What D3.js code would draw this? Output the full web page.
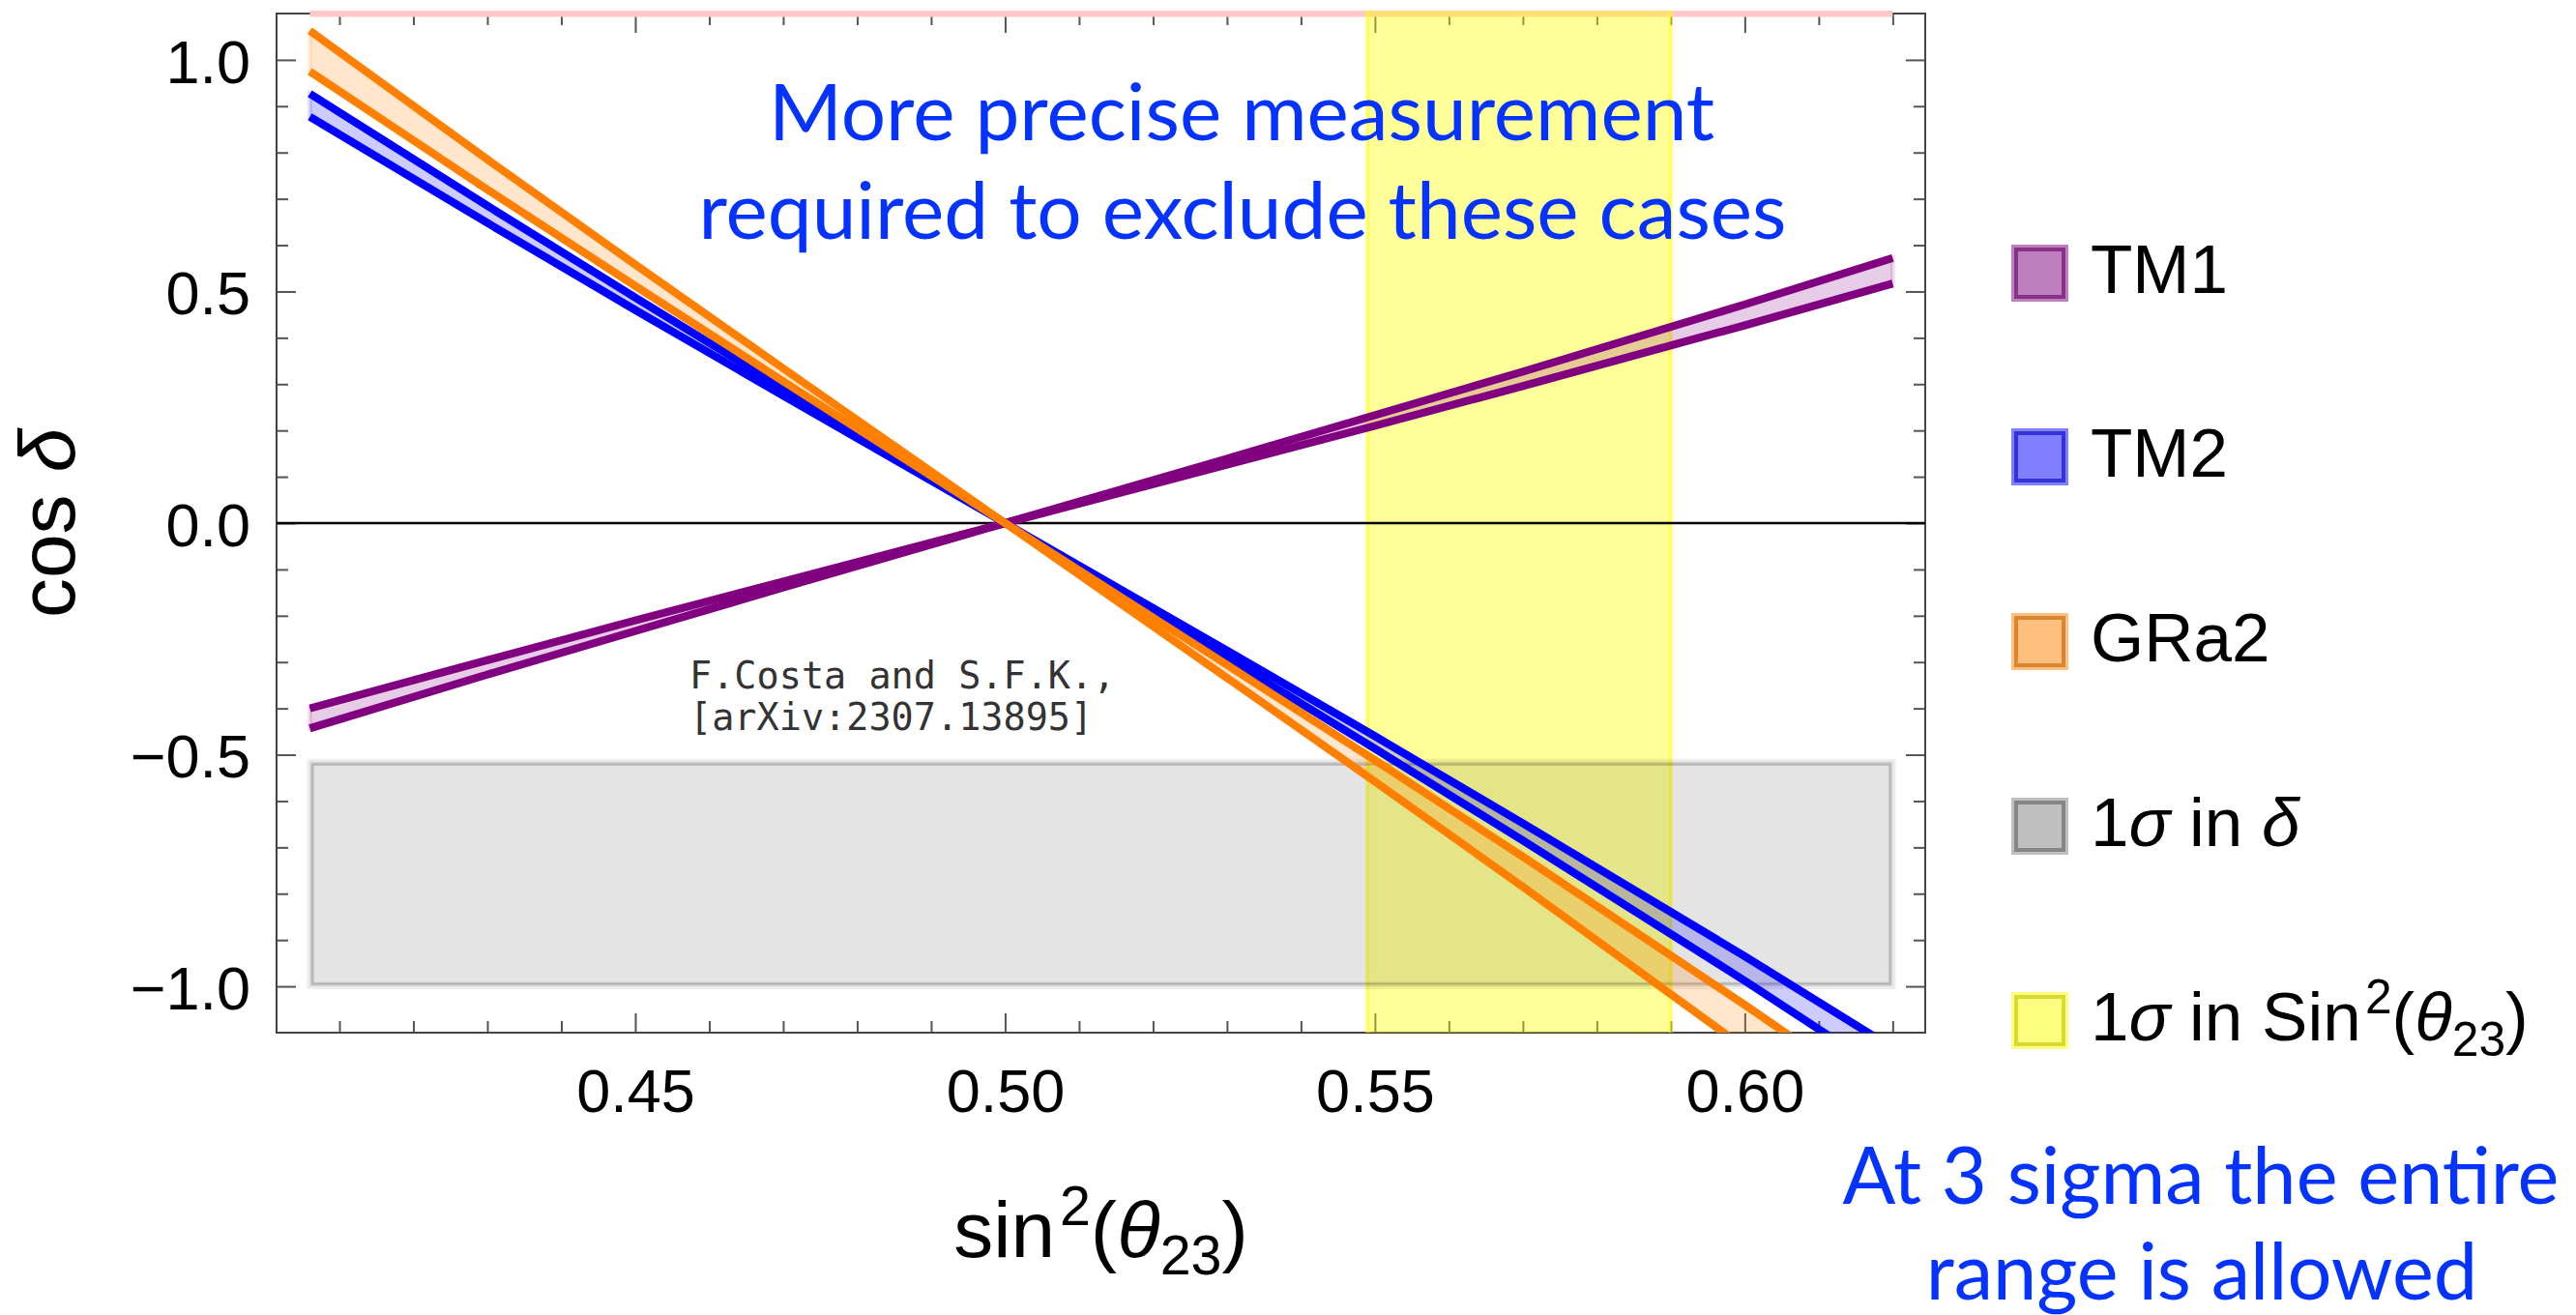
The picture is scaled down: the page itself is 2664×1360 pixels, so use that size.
<!DOCTYPE html>
<html>
<head>
<meta charset="utf-8">
<script src="https://cdn.jsdelivr.net/npm/d3@7"></script>
<style>
html,body{margin:0;padding:0;background:#fff;}
svg{display:block;}
</style>
</head>
<body>
<svg id="chart" width="2664" height="1360"></svg>
<script>
// ---------------- data ----------------
const sinSq23   = [0.406, 0.43, 0.45, 0.47, 0.50, 0.53, 0.55, 0.57, 0.60, 0.62];
const tm1Edge1  = [-0.443, -0.327, -0.233, -0.139, 0, 0.139, 0.233, 0.327, 0.472, 0.572];
const tm1Edge2  = [-0.400, -0.296, -0.210, -0.126, 0, 0.126, 0.210, 0.296, 0.427, 0.517];
const tm2Edge1  = [0.927, 0.685, 0.487, 0.291, 0, -0.291, -0.487, -0.685, -0.988, -1.197];
const tm2Edge2  = [0.877, 0.648, 0.460, 0.275, 0, -0.275, -0.460, -0.648, -0.935, -1.133];
const gra2Edge1 = [1.063, 0.785, 0.558, 0.334, 0, -0.334, -0.558, -0.785, -1.133, -1.373];
const gra2Edge2 = [0.975, 0.720, 0.512, 0.306, 0, -0.306, -0.512, -0.720, -1.040, -1.259];

const modelNames  = ["TM1", "TM2", "GRa2"];
const modelColors = ["#800080", "#0000ff", "#ff8000"];

const deltaSigmaCos   = [-1.0, -0.515];   // 1 sigma in delta (cos delta range)
const deltaSigmaSin   = [0.406, 0.620];   // extent of the grey box
const theta23Sigma    = [0.549, 0.590];   // 1 sigma in sin^2(theta23)
const topStripSin     = [0.406, 0.620];

const xMajorTicks  = [0.45, 0.50, 0.55, 0.60];
const xTickLabels  = ["0.45", "0.50", "0.55", "0.60"];
const yMajorTicks  = [1.0, 0.5, 0.0, -0.5, -1.0];
const yTickLabels  = ["1.0", "0.5", "0.0", "\u22120.5", "\u22121.0"];

const legendLabels = ["TM1", "TM2", "GRa2", "1σ in δ", "1σ in Sin^{2}(θ_{23})"];
const legendColors = ["#800080", "#0000ff", "#ff8000", "#808080", "#ffff00"];

const xAxisTitle = "sin^{2}(θ_{23})";
const yAxisTitle = "cos δ";
const noteTop    = ["More precise measurement", "required to exclude these cases"];
const noteBottom = ["At 3 sigma the entire", "range is allowed"];
const citation   = ["F.Costa and S.F.K.,", "[arXiv:2307.13895]"];

// ---------------- layout ----------------
const L = 286, R = 1991, T = 14, B = 1068;
const svg = d3.select("#chart");
const x = d3.scaleLinear().domain([0.4015, 0.6244]).range([L, R]);
const y = d3.scaleLinear().domain([-1.1, 1.1]).range([B, T]);
const helv = "'Liberation Sans', Arial, Helvetica, sans-serif";
const blue = "#0433ff";

svg.append("defs").append("clipPath").attr("id", "plotclip")
  .append("rect").attr("x", L).attr("y", T).attr("width", R - L).attr("height", B - T);

// layer groups (in paint order)
const gFrame   = svg.append("g");
const gRegions = svg.append("g");
const gZero    = svg.append("g").attr("clip-path", "url(#plotclip)");
const gFills   = svg.append("g").attr("clip-path", "url(#plotclip)");
const gLines   = svg.append("g").attr("clip-path", "url(#plotclip)");
const gText    = svg.append("g");

// rich text helper: ^{..} superscript, _{..} subscript, greek italic
function rich(textSel, str, fs) {
  const re = /\^\{([^}]*)\}|_\{([^}]*)\}|([\u0370-\u03FF])|([^\^_\u0370-\u03FF]+)/g;
  let m, cur = 0;
  while ((m = re.exec(str)) !== null) {
    let txt, size = fs, off = 0, ital = false;
    if (m[1] != null) { txt = m[1]; size = fs * 0.7; off = -0.40 * fs; }
    else if (m[2] != null) { txt = m[2]; size = fs * 0.7; off = 0.22 * fs; }
    else if (m[3] != null) { txt = m[3]; ital = true; }
    else { txt = m[4]; }
    const ts = textSel.append("tspan").text(txt).attr("font-size", size)
      .attr("dy", off - cur);
    if (ital) ts.attr("font-style", "italic");
    if (m[1] != null) ts.attr("dx", fs * 0.06);
    cur = off;
  }
}

// ---------------- frame & ticks ----------------
const xMinor = d3.range(41, 63).map(d => d / 100).filter(d => !xMajorTicks.some(t => Math.abs(t - d) < 1e-9));
const yMinor = d3.range(-10, 11).map(d => d / 10).filter(d => !yMajorTicks.some(t => Math.abs(t - d) < 1e-9));

function tickAxis(gen, scale, vals, len, tx, ty, labels) {
  const a = gen(scale).tickValues(vals).tickSizeInner(-len).tickSizeOuter(0)
    .tickFormat(labels ? ((d, i) => labels[i]) : () => "");
  const g = gFrame.append("g").attr("transform", `translate(${tx},${ty})`).call(a);
  g.select(".domain").remove();
  g.selectAll(".tick line").attr("stroke", "#555").attr("stroke-width", 2);
  return g;
}
const gxb = tickAxis(d3.axisBottom, x, xMajorTicks, 20, 0, B, xTickLabels);
tickAxis(d3.axisBottom, x, xMinor, 12, 0, B, null);
tickAxis(d3.axisTop, x, xMajorTicks, 20, 0, T, null);
tickAxis(d3.axisTop, x, xMinor, 12, 0, T, null);
const gyl = tickAxis(d3.axisLeft, y, yMajorTicks, 20, L, 0, yTickLabels);
tickAxis(d3.axisLeft, y, yMinor, 12, L, 0, null);
tickAxis(d3.axisRight, y, yMajorTicks, 20, R, 0, null);
tickAxis(d3.axisRight, y, yMinor, 12, R, 0, null);

gxb.selectAll(".tick text").attr("font-family", helv).attr("font-size", 63).attr("fill", "#000")
  .attr("y", 0).attr("dy", 0).attr("transform", "translate(0,82)");
gyl.selectAll(".tick text").attr("font-family", helv).attr("font-size", 63).attr("fill", "#000")
  .attr("x", -(L - 259)).attr("dy", "0.37em");

gFrame.append("rect").attr("x", L).attr("y", T).attr("width", R - L).attr("height", B - T)
  .attr("fill", "none").attr("stroke", "#444").attr("stroke-width", 2);

// ---------------- background regions ----------------
gRegions.append("rect").attr("x", x(topStripSin[0])).attr("width", x(topStripSin[1]) - x(topStripSin[0]))
  .attr("y", T - 3).attr("height", 6.5).attr("fill", "#ffc8c8");

gRegions.append("rect").attr("x", x(theta23Sigma[0])).attr("width", x(theta23Sigma[1]) - x(theta23Sigma[0]))
  .attr("y", T - 3).attr("height", B - T + 3).attr("fill", "rgba(255,255,0,0.40)");
theta23Sigma.forEach(v => {
  gRegions.append("line").attr("x1", x(v)).attr("x2", x(v)).attr("y1", T - 3).attr("y2", B)
    .attr("stroke", "rgba(255,255,0,0.5)").attr("stroke-width", 4);
});

const gx0 = x(deltaSigmaSin[0]), gx1 = x(deltaSigmaSin[1]);
const gy0 = y(deltaSigmaCos[1]), gy1 = y(deltaSigmaCos[0]);
gRegions.append("rect").attr("x", gx0).attr("y", gy0).attr("width", gx1 - gx0).attr("height", gy1 - gy0)
  .attr("fill", "rgba(0,0,0,0.105)").attr("stroke", "rgba(0,0,0,0.07)").attr("stroke-width", 6);
gRegions.append("rect").attr("x", gx0 + 3).attr("y", gy0 + 3).attr("width", gx1 - gx0 - 6).attr("height", gy1 - gy0 - 6)
  .attr("fill", "none").attr("stroke", "rgba(0,0,0,0.16)").attr("stroke-width", 2.5);

gZero.append("line").attr("x1", L).attr("x2", R).attr("y1", y(0)).attr("y2", y(0))
  .attr("stroke", "#000").attr("stroke-width", 2.5);

// ---------------- bands ----------------
const edges = [[tm1Edge1, tm1Edge2], [tm2Edge1, tm2Edge2], [gra2Edge1, gra2Edge2]];
const models = modelNames.map((n, i) => ({
  name: n, color: modelColors[i],
  pts: sinSq23.map((s, j) => ({ s, a: edges[i][0][j], b: edges[i][1][j] }))
}));

const area = d3.area().x(d => x(d.s)).y0(d => y(d.a)).y1(d => y(d.b));
const lineA = d3.line().x(d => x(d.s)).y(d => y(d.a));
const lineB = d3.line().x(d => x(d.s)).y(d => y(d.b));

models.forEach(m => {
  const c = d3.color(m.color);
  gFills.append("path").attr("d", area(m.pts))
    .attr("fill", `rgba(${c.r},${c.g},${c.b},0.2)`)
    .attr("stroke", `rgba(${c.r},${c.g},${c.b},0.12)`).attr("stroke-width", 5);
});
models.forEach(m => {
  [lineA, lineB].forEach(gen => {
    gLines.append("path").attr("d", gen(m.pts)).attr("fill", "none")
      .attr("stroke", m.color).attr("stroke-width", 8.2).attr("stroke-linecap", "butt");
  });
});

// ---------------- axis titles ----------------
const xt = gText.append("text").attr("x", (L + R) / 2).attr("y", 1300).attr("text-anchor", "middle")
  .attr("font-family", helv).attr("font-size", 82).attr("fill", "#000");
rich(xt, xAxisTitle, 82);

const yt = gText.append("text").attr("transform", `translate(77,${y(0)}) rotate(-90)`)
  .attr("text-anchor", "middle").attr("font-family", helv).attr("font-size", 82).attr("fill", "#000");
rich(yt, yAxisTitle, 82);

// ---------------- legend ----------------
const legendTop = [253, 443, 634, 825, 1026];
legendLabels.forEach((lab, i) => {
  const c = d3.color(legendColors[i]);
  const g = gText.append("g");
  const sx = 2080, sy = legendTop[i], sz = 59;
  g.append("rect").attr("x", sx).attr("y", sy).attr("width", sz).attr("height", sz)
    .attr("fill", `rgba(${c.r},${c.g},${c.b},0.5)`);
  const dk = c.darker(0.8);
  g.append("rect").attr("x", sx + 5).attr("y", sy + 5).attr("width", sz - 10).attr("height", sz - 10)
    .attr("fill", "none").attr("stroke", `rgba(${Math.round(dk.r)},${Math.round(dk.g)},${Math.round(dk.b)},0.6)`)
    .attr("stroke-width", 4);
  const t = g.append("text").attr("x", 2162).attr("y", sy + 50)
    .attr("font-family", helv).attr("font-size", 71).attr("fill", "#000");
  rich(t, lab, 71);
});

// ---------------- annotations ----------------
const blueFont = "Lato, 'Open Sans', sans-serif";
function fitLines(lines, cx, baselines, targets, fs0) {
  const nodes = lines.map((s, i) => gText.append("text").attr("x", cx[i]).attr("y", baselines[i])
    .attr("text-anchor", "middle").attr("font-family", blueFont).attr("font-size", fs0)
    .attr("fill", blue).text(s));
  let ratio = 0;
  nodes.forEach((n, i) => { ratio += targets[i] / n.node().getComputedTextLength(); });
  ratio /= nodes.length;
  nodes.forEach(n => n.attr("font-size", fs0 * ratio));
}
fitLines(noteTop, [1284, 1285], [145, 247], [977, 1127], 80);
fitLines(noteBottom, [2276, 2277], [1245, 1344], [752, 562], 80);

citation.forEach((s, i) => {
  gText.append("text").attr("x", 713).attr("y", [712, 755][i])
    .attr("font-family", "'DejaVu Sans Mono', monospace").attr("font-size", 38.5)
    .attr("fill", "#333").text(s);
});
</script>
</body>
</html>
